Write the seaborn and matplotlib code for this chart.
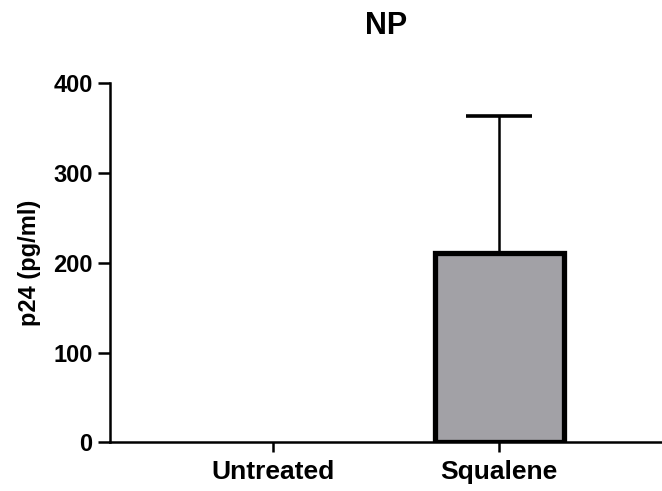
import numpy as np
import pandas as pd
import seaborn as sns
import matplotlib.pyplot as plt

groups = ["Untreated", "Squalene"]
p24 = [0, 211]
p24_sd = [0, 152]

df = pd.DataFrame({"group": groups, "p24": p24})

sns.set_style("ticks")
plt.rcParams['font.family'] = ['Liberation Sans', 'DejaVu Sans']
plt.rcParams['font.weight'] = 'bold'
plt.rcParams['text.color'] = 'black'
plt.rcParams['axes.labelcolor'] = 'black'

fig = plt.figure(figsize=(6.62, 4.91), dpi=100)
ax = fig.add_axes([0.166, 0.099, 0.834, 0.732])

sns.barplot(data=df, x="group", y="p24", color="#a2a1a6", width=0.57,
            saturation=1, errorbar=None, edgecolor="black", linewidth=3.8, ax=ax)

# zero-height bar should not show an outline
for patch, val in zip(ax.patches, p24):
    if val == 0:
        patch.set_linewidth(0)

# one-sided error bar (upwards only)
x_pos = np.arange(len(groups))
ax.errorbar(x_pos[1:], p24[1:], yerr=[[0], p24_sd[1:]], fmt="none",
            ecolor="black", elinewidth=1.8, capsize=23.5, capthick=2.6, zorder=1)

ax.set_xlim(-0.72, 1.72)
ax.set_ylim(0, 400)
ax.set_yticks([0, 100, 200, 300, 400])
ax.set_xlabel("")
ax.set_ylabel("p24 (pg/ml)", fontsize=17, fontweight="bold", labelpad=9)
ax.set_title("NP", fontsize=22, fontweight="bold", pad=35)

for s in ["top", "right"]:
    ax.spines[s].set_visible(False)
for s in ["left", "bottom"]:
    ax.spines[s].set_linewidth(1.8)
    ax.spines[s].set_color("black")
ax.tick_params(axis="y", width=1.8, length=8.5, colors="black", labelsize=17, pad=4)
ax.tick_params(axis="x", width=1.8, length=7, colors="black", labelsize=19, pad=6)
for lab in ax.get_xticklabels() + ax.get_yticklabels():
    lab.set_fontweight("bold")

fig.savefig("out.png", dpi=100)
